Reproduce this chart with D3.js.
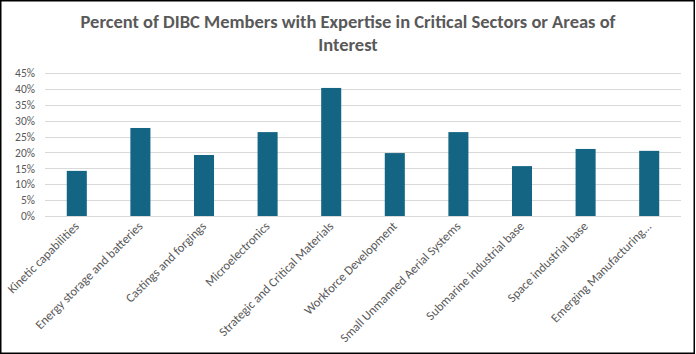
<!DOCTYPE html>
<html>
<head>
<meta charset="utf-8">
<script src="https://cdn.jsdelivr.net/npm/d3@7"></script>
<style>
  body { margin: 0; background: #fff; }
  text { font-family: Calibri, Carlito, Lato, sans-serif; }
</style>
</head>
<body>
<div id="chart"></div>
<script>
const categories = [
  'Kinetic capabilities',
  'Energy storage and batteries',
  'Castings and forgings',
  'Microelectronics',
  'Strategic and Critical Materials',
  'Workforce Development',
  'Small Unmanned Aerial Systems',
  'Submarine industrial base',
  'Space industrial base',
  'Emerging Manufacturing...'
];
const values = [0.142, 0.277, 0.192, 0.264, 0.403, 0.198, 0.264, 0.157, 0.211, 0.205];
const yTicks = [0, 0.05, 0.10, 0.15, 0.20, 0.25, 0.30, 0.35, 0.40, 0.45];
const titleLines = ['Percent of DIBC Members with Expertise in Critical Sectors or Areas of', 'Interest'];

const W = 696, H = 354;
const margin = {top: 73, right: 15, bottom: 138, left: 45};

const svg = d3.select('#chart')
  .append('svg')
    .attr('width', W)
    .attr('height', H);

// white background and frame
svg.append('rect')
  .attr('x', 0.75).attr('y', 0.75)
  .attr('width', W - 2.5).attr('height', H - 1.5)
  .attr('fill', '#fff')
  .attr('stroke', '#000')
  .attr('stroke-width', 1.5);

const x = d3.scaleBand()
  .domain(categories)
  .range([margin.left, W - margin.right])
  .paddingInner(0.685)
  .paddingOuter(0.3425);

const y = d3.scaleLinear()
  .domain([0, 0.45])
  .range([H - margin.bottom, margin.top]);

// gridlines
svg.append('g')
  .selectAll('line')
  .data(yTicks)
  .join('line')
    .attr('x1', margin.left)
    .attr('x2', W - margin.right)
    .attr('y1', d => Math.round(y(d)) + 0.5)
    .attr('y2', d => Math.round(y(d)) + 0.5)
    .attr('stroke', '#d9d9d9')
    .attr('stroke-width', 1);

// y axis labels
const yAxis = svg.append('g')
  .attr('transform', `translate(${margin.left},0)`)
  .call(d3.axisLeft(y).tickValues(yTicks).tickFormat(d3.format('.0%')).tickSize(0).tickPadding(10));
yAxis.select('.domain').remove();
yAxis.selectAll('text')
  .attr('fill', '#595959')
  .style('font-size', '11.5px');

// bars
svg.append('g')
  .selectAll('rect')
  .data(values)
  .join('rect')
    .attr('x', (d, i) => x(categories[i]))
    .attr('y', d => y(d))
    .attr('width', x.bandwidth())
    .attr('height', d => y(0) - y(d))
    .attr('fill', '#136583');

// x axis labels
const xAxis = svg.append('g')
  .attr('transform', `translate(0,${y(0)})`)
  .call(d3.axisBottom(x).tickSize(0).tickPadding(0));
xAxis.select('.domain').remove();
xAxis.selectAll('text')
  .attr('fill', '#595959')
  .style('font-size', '12.6px')
  .attr('text-anchor', 'end')
  .attr('dy', null)
  .attr('transform', 'translate(3,11) rotate(-45)');

// title
svg.append('text')
  .attr('x', W / 2)
  .attr('y', 28)
  .attr('text-anchor', 'middle')
  .attr('fill', '#595959')
  .style('font-size', '18.5px')
  .style('font-weight', 'bold')
  .selectAll('tspan')
  .data(titleLines)
  .join('tspan')
    .attr('x', W / 2)
    .attr('dy', (d, i) => i === 0 ? 0 : 22.5)
    .text(d => d);
</script>
</body>
</html>
